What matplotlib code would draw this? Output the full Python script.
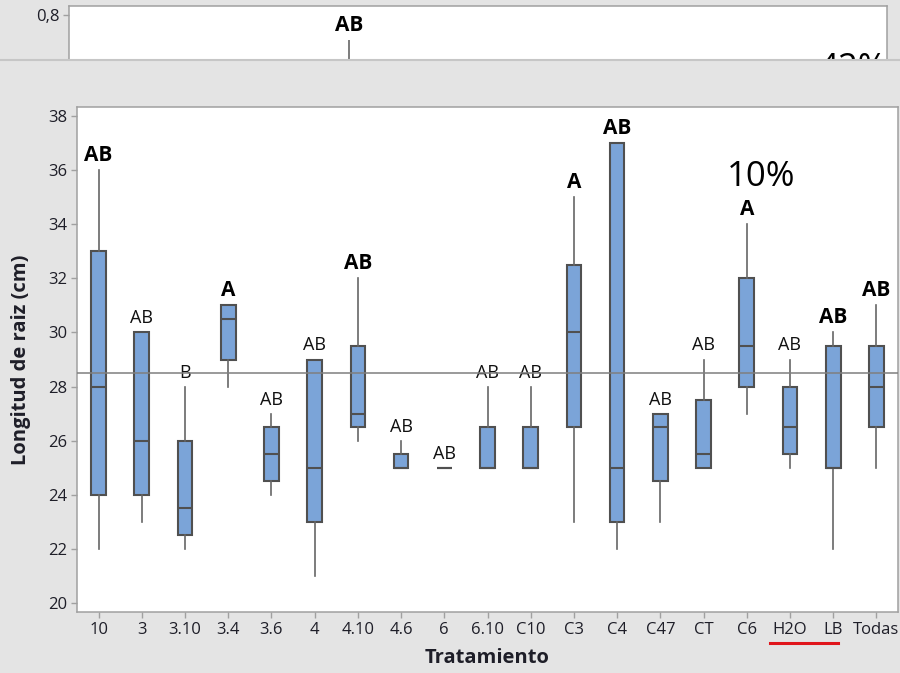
import matplotlib.pyplot as plt
from matplotlib.lines import Line2D
from matplotlib.ticker import FuncFormatter

plt.rcParams['font.family'] = ['Open Sans', 'DejaVu Sans']

# longitud de raiz por tratamiento (resumen de cajas)
tratamientos = ['10', '3', '3.10', '3.4', '3.6', '4', '4.10', '4.6', '6', '6.10',
                'C10', 'C3', 'C4', 'C47', 'CT', 'C6', 'H2O', 'LB', 'Todas']
minimo = [22, 23, 22, 28, 24, 21, 26, 25, 25, 25, 25, 23, 22, 23, 25, 27, 25, 22, 25]
q1 = [24, 24, 22.5, 29, 24.5, 23, 26.5, 25, 25, 25, 25, 26.5, 23, 24.5, 25, 28, 25.5, 25, 26.5]
mediana = [28, 26, 23.5, 30.5, 25.5, 25, 27, 25, 25, 25, 25, 30, 25, 26.5, 25.5, 29.5, 26.5, 25, 28]
q3 = [33, 30, 26, 31, 26.5, 29, 29.5, 25.5, 25, 26.5, 26.5, 32.5, 37, 27, 27.5, 32, 28, 29.5, 29.5]
maximo = [36, 30, 28, 31, 27, 29, 32, 26, 25, 28, 28, 35, 37, 27, 29, 34, 29, 30, 31]
grupos = ['AB', 'AB', 'B', 'A', 'AB', 'AB', 'AB', 'AB', 'AB', 'AB',
          'AB', 'A', 'AB', 'AB', 'AB', 'A', 'AB', 'AB', 'AB']
negrita = [True, False, False, True, False, False, True, False, False, False,
           False, True, True, False, False, True, False, True, True]
media_general = 28.5
porcentaje = '10%'

# grafico de atras (solo se ve la parte de arriba)
arriba_pos = 7
arriba_max = 0.717
arriba_grupo = 'AB'
arriba_pct = '42%'

fondo = '#e4e4e4'
azul = '#7ba4d8'
borde = '#505050'
marco = '#a0a0a0'
texto = '#1e1e28'

fig = plt.figure(figsize=(9, 6.73), dpi=100, facecolor=fondo)

# --- panel de arriba ---
ax0 = fig.add_axes([69/900, 1 - 60/673, 818/900, 54/673])
ax0.set_xlim(0.5, 19.5)
ax0.set_ylim(0.65, 0.83)
ax0.vlines(arriba_pos, 0.5, arriba_max, color='#666666', lw=1.2)
ax0.annotate(arriba_grupo, (arriba_pos, arriba_max), xytext=(0, 6.5), textcoords='offset points',
             ha='center', va='baseline', fontsize=15, fontweight='bold', color='black')
ax0.text(18.7, 0.677, arriba_pct, ha='center', va='top', fontsize=25, color='black', clip_on=True)
ax0.set_xticks([])
ax0.set_yticks([0.8])
ax0.yaxis.set_major_formatter(FuncFormatter(lambda v, p: ('%.1f' % v).replace('.', ',')))
ax0.spines['bottom'].set_visible(False)
for s in ['left', 'top', 'right']:
    ax0.spines[s].set_color(marco)
    ax0.spines[s].set_linewidth(1.1)
ax0.tick_params(axis='y', length=4, width=1, color=marco, labelsize=12, labelcolor=texto, pad=3)

fig.add_artist(Line2D([0, 1], [1 - 60/673, 1 - 60/673], transform=fig.transFigure,
                      color='#c6c6c6', lw=1.5))

# --- panel principal ---
ax = fig.add_axes([77/900, 61/673, 821/900, 505/673])
pos = list(range(1, len(tratamientos) + 1))
stats = []
for i, t in enumerate(tratamientos):
    stats.append(dict(med=mediana[i], q1=q1[i], q3=q3[i], whislo=minimo[i],
                      whishi=maximo[i], fliers=[], label=t))
ax.bxp(stats, positions=pos, widths=0.34, patch_artist=True, showcaps=False,
       boxprops=dict(facecolor=azul, edgecolor=borde, linewidth=1.5),
       medianprops=dict(color=borde, linewidth=1.5),
       whiskerprops=dict(color='#666666', linewidth=1.2))
ax.axhline(media_general, color='#7f7f7f', lw=1.1, zorder=5)

for i, g in enumerate(grupos):
    if negrita[i]:
        ax.annotate(g, (pos[i], maximo[i]), xytext=(0, 6.5), textcoords='offset points',
                    ha='center', va='baseline', fontsize=15, fontweight='bold', color='black')
    else:
        ax.annotate(g, (pos[i], maximo[i]), xytext=(0, 6.5), textcoords='offset points',
                    ha='center', va='baseline', fontsize=13, color='#111111')

ax.text(16.33, 35.75, porcentaje, ha='center', va='center', fontsize=25, color='black')

ax.set_xlim(0.5, 19.5)
ax.set_ylim(19.67, 38.33)
ax.set_yticks(range(20, 39, 2))
ax.set_xticks(pos)
ax.set_xticklabels(tratamientos)
for s in ax.spines.values():
    s.set_color(marco)
    s.set_linewidth(1.1)
ax.tick_params(length=4, width=1, color=marco, labelsize=12, labelcolor=texto, pad=3)

ax.set_xlabel('Tratamiento', fontsize=14.5, fontweight='bold', color=texto)
ax.xaxis.set_label_coords(0.5, -0.072)
ax.set_ylabel('Longitud de raiz (cm)', fontsize=14.5, fontweight='bold', color=texto)
ax.yaxis.set_label_coords(-0.056, 0.5)

# subrayado rojo bajo H2O y LB
ax.add_line(Line2D([16.54, 18.11], [-0.0614, -0.0614], transform=ax.get_xaxis_transform(),
                   color='#e0151b', lw=2.2, clip_on=False))

fig.savefig('out.png', dpi=100, facecolor=fondo)
